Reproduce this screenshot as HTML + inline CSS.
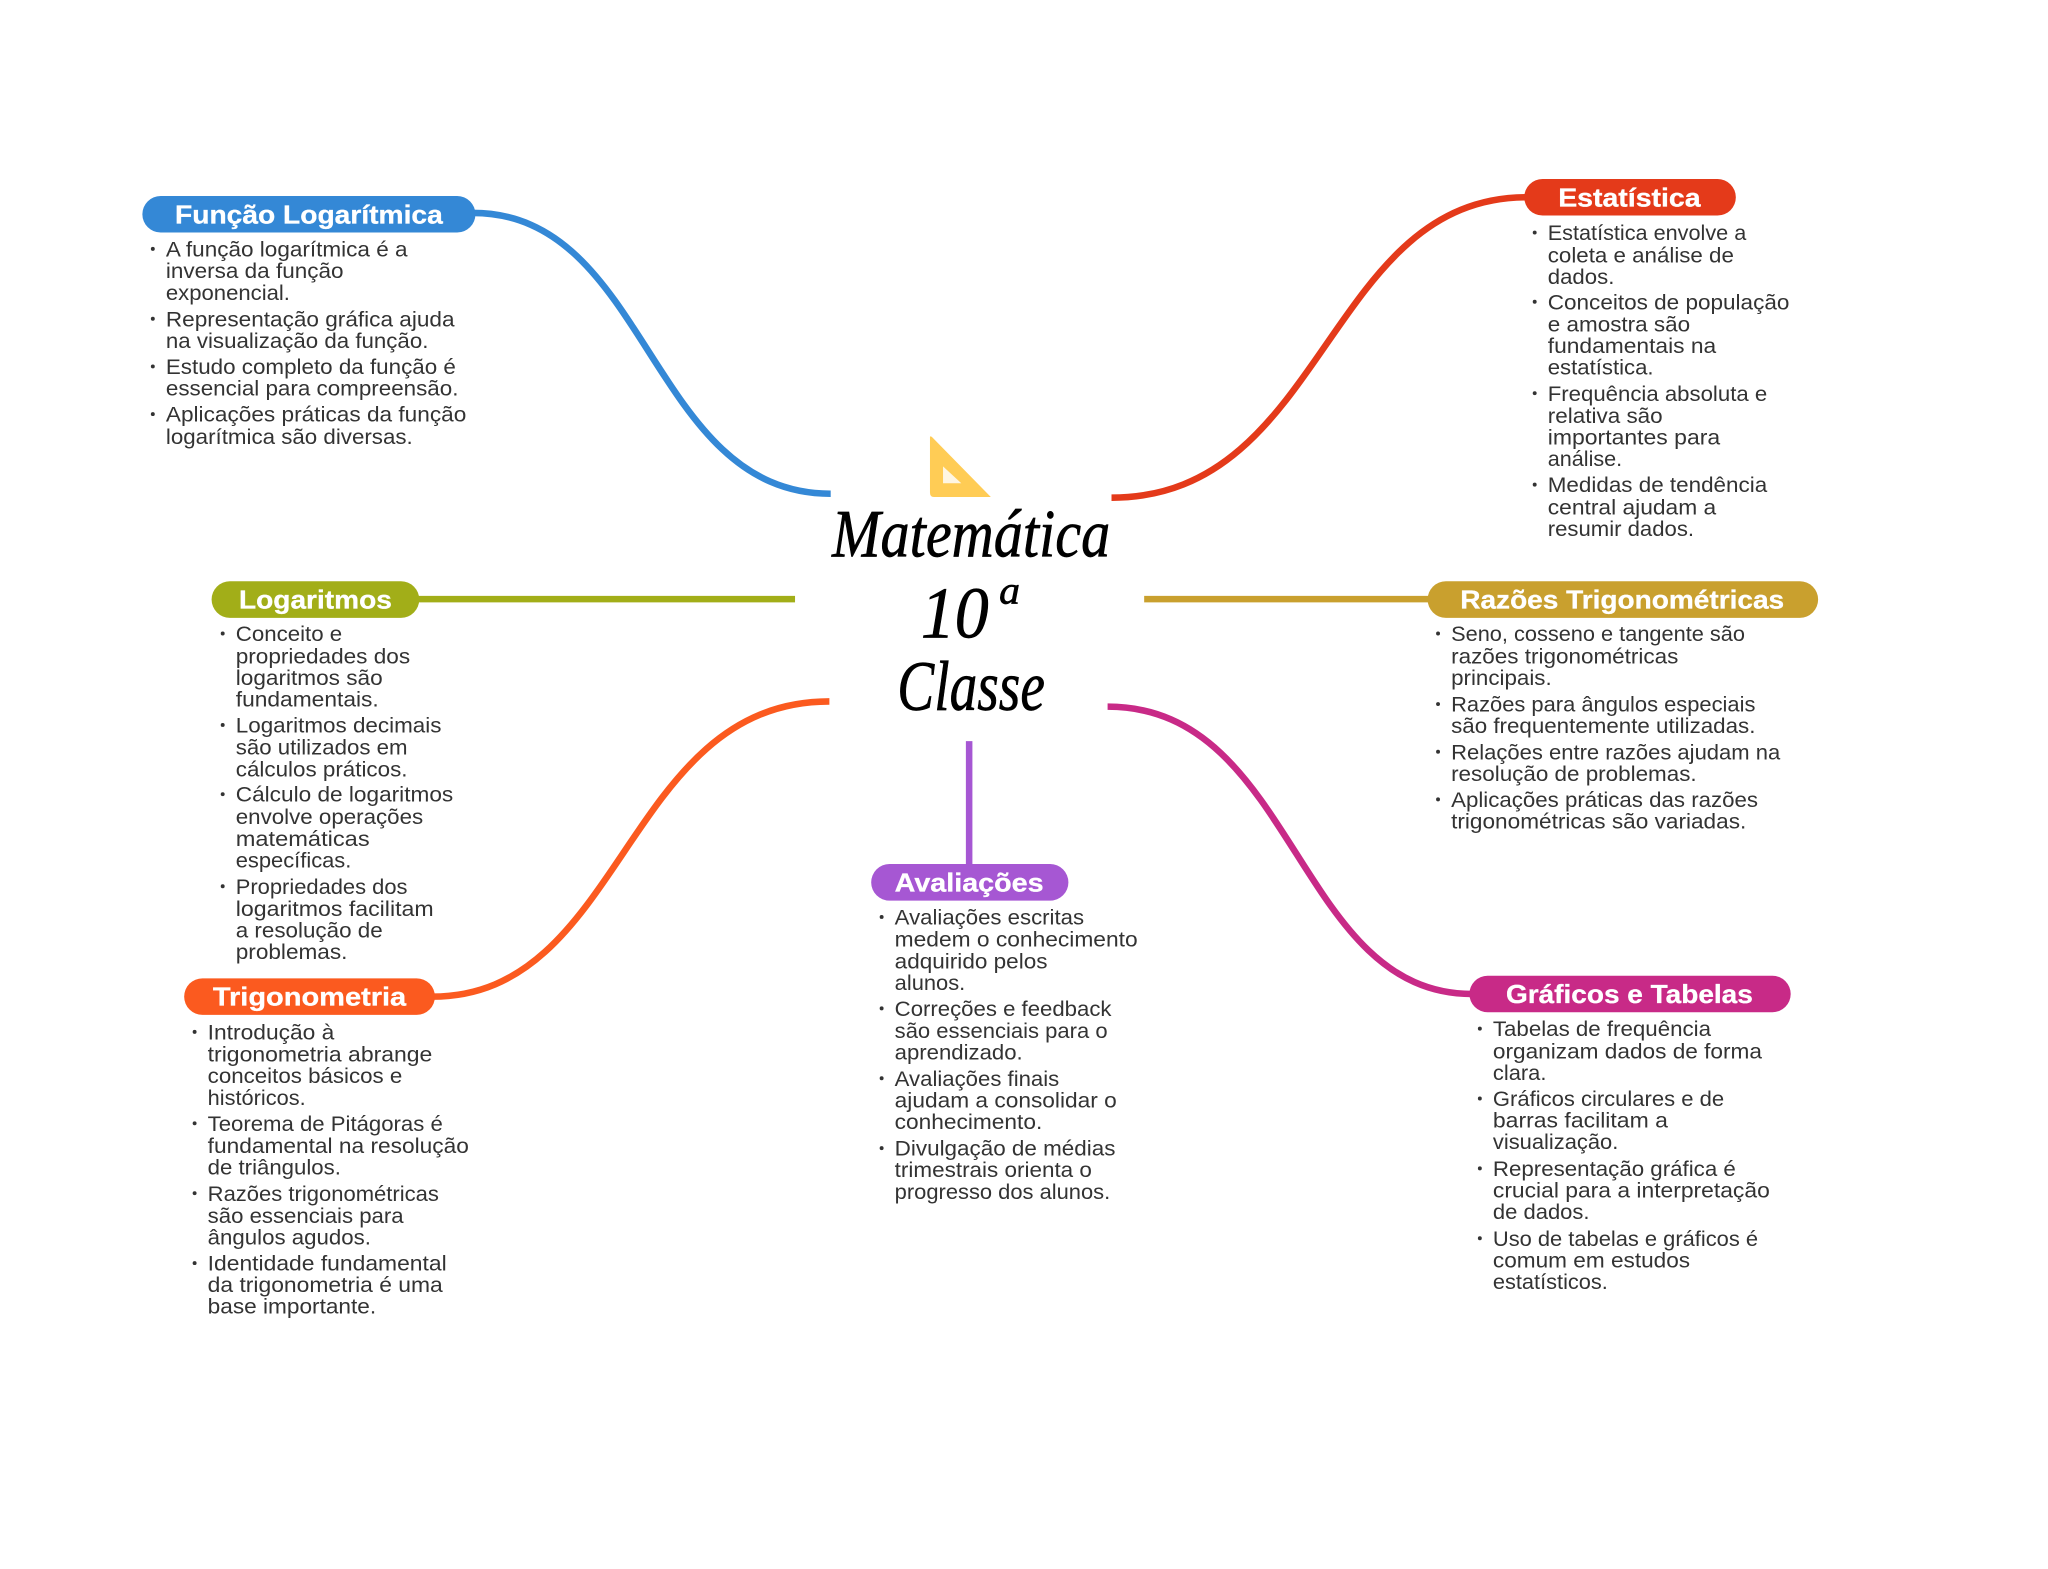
<!DOCTYPE html>
<html lang="pt">
<head>
<meta charset="utf-8">
<title>Matemática 10ª Classe</title>
<style>
html,body{margin:0;padding:0;background:#fff;width:2048px;height:1569px;overflow:hidden}
svg{display:block}
.b text{font-family:"Liberation Sans",sans-serif;font-size:16.5px;fill:#333}
.t{font-family:"Liberation Sans",sans-serif;font-weight:700;font-size:20px;fill:#fff;stroke:#fff;stroke-width:.25}
.c{font-family:"Liberation Serif",serif;font-style:italic;fill:#000;stroke:#000;stroke-width:.5}
.l{fill:none;stroke-width:5}
</style>
</head>
<body>
<svg xmlns="http://www.w3.org/2000/svg" width="2048" height="1569" viewBox="0 0 1568 1201.2">
<rect width="1568" height="1201.2" fill="#fff"/>

<!-- connectors -->
<path class="l" stroke="#3488d6" d="M362,163 C497,163 497,378 636,378"/>
<path class="l" stroke="#e43a1a" d="M851,381 C1015,381 1015,151 1169,151"/>
<path class="l" stroke="#fb5a1f" d="M331,763 C478,763 478,537 635,537"/>
<path class="l" stroke="#c82a87" d="M848,541 C992,541 992,761 1127,761"/>
<path class="l" stroke="#a2ae18" d="M319,458.7 H608.7"/>
<path class="l" stroke="#c9a02e" d="M876,458.7 H1095"/>
<path class="l" stroke="#a657d3" d="M742,567.4 V663"/>

<!-- central icon -->
<path d="M712,335 Q712,333 714,335 L758.6,380.5 L715,380.5 Q712,380.5 712,377 Z" fill="#ffcc55"/>
<path d="M722,357 L736,370 L722,370 Z" fill="#fff6e2"/>

<!-- central title -->
<text class="c" x="637" y="426" font-size="52" textLength="213" lengthAdjust="spacingAndGlyphs">Matemática</text>
<text class="c" x="705" y="488" font-size="56" textLength="52" lengthAdjust="spacingAndGlyphs">10</text>
<text class="c" x="765" y="462" font-size="30" textLength="16" lengthAdjust="spacingAndGlyphs">a</text>
<text class="c" x="687" y="543.6" font-size="54" textLength="113" lengthAdjust="spacingAndGlyphs">Classe</text>

<!-- pills -->
<rect x="109" y="150" width="255" height="28" rx="14" fill="#3488d6"/>
<text class="t" x="134" y="171" textLength="205" lengthAdjust="spacingAndGlyphs">Função Logarítmica</text>
<rect x="1167" y="137" width="162" height="28" rx="14" fill="#e43a1a"/>
<text class="t" x="1193" y="158" textLength="109" lengthAdjust="spacingAndGlyphs">Estatística</text>
<rect x="162" y="445" width="159" height="28" rx="14" fill="#a2ae18"/>
<text class="t" x="183" y="466" textLength="117" lengthAdjust="spacingAndGlyphs">Logaritmos</text>
<rect x="1093" y="445" width="299" height="28" rx="14" fill="#c9a02e"/>
<text class="t" x="1118" y="466" textLength="248" lengthAdjust="spacingAndGlyphs">Razões Trigonométricas</text>
<rect x="141" y="749" width="192" height="28" rx="14" fill="#fb5a1f"/>
<text class="t" x="163" y="770" textLength="148" lengthAdjust="spacingAndGlyphs">Trigonometria</text>
<rect x="667" y="661.5" width="151" height="28" rx="14" fill="#a657d3"/>
<text class="t" x="685" y="682.5" textLength="114" lengthAdjust="spacingAndGlyphs">Avaliações</text>
<rect x="1125" y="747" width="246" height="28" rx="14" fill="#c82a87"/>
<text class="t" x="1153" y="768" textLength="189" lengthAdjust="spacingAndGlyphs">Gráficos e Tabelas</text>

<!-- bullets -->
<g fill="#333">
<circle cx="117" cy="190.5" r="1.5"/><circle cx="117" cy="244" r="1.5"/><circle cx="117" cy="280.5" r="1.5"/><circle cx="117" cy="317" r="1.5"/>
<circle cx="1175" cy="178" r="1.5"/><circle cx="1175" cy="231" r="1.5"/><circle cx="1175" cy="301" r="1.5"/><circle cx="1175" cy="371" r="1.5"/>
<circle cx="170.5" cy="485" r="1.5"/><circle cx="170.5" cy="555" r="1.5"/><circle cx="170.5" cy="608" r="1.5"/><circle cx="170.5" cy="678.5" r="1.5"/>
<circle cx="1101" cy="485" r="1.5"/><circle cx="1101" cy="539" r="1.5"/><circle cx="1101" cy="575.5" r="1.5"/><circle cx="1101" cy="612" r="1.5"/>
<circle cx="149" cy="790" r="1.5"/><circle cx="149" cy="860" r="1.5"/><circle cx="149" cy="913.5" r="1.5"/><circle cx="149" cy="967" r="1.5"/>
<circle cx="675" cy="702" r="1.5"/><circle cx="675" cy="772" r="1.5"/><circle cx="675" cy="825.5" r="1.5"/><circle cx="675" cy="879" r="1.5"/>
<circle cx="1133" cy="787.5" r="1.5"/><circle cx="1133" cy="841" r="1.5"/><circle cx="1133" cy="894.5" r="1.5"/><circle cx="1133" cy="948" r="1.5"/>
</g>

<!-- body text -->
<g class="b" transform="translate(0,5.8)">
<text x="127" y="190.5" textLength="185" lengthAdjust="spacingAndGlyphs">A função logarítmica é a</text>
<text x="127" y="207" textLength="136" lengthAdjust="spacingAndGlyphs">inversa da função</text>
<text x="127" y="224" textLength="95" lengthAdjust="spacingAndGlyphs">exponencial.</text>
<text x="127" y="244" textLength="221" lengthAdjust="spacingAndGlyphs">Representação gráfica ajuda</text>
<text x="127" y="260.5" textLength="201" lengthAdjust="spacingAndGlyphs">na visualização da função.</text>
<text x="127" y="280.5" textLength="222" lengthAdjust="spacingAndGlyphs">Estudo completo da função é</text>
<text x="127" y="297" textLength="224" lengthAdjust="spacingAndGlyphs">essencial para compreensão.</text>
<text x="127" y="317" textLength="230" lengthAdjust="spacingAndGlyphs">Aplicações práticas da função</text>
<text x="127" y="334" textLength="189" lengthAdjust="spacingAndGlyphs">logarítmica são diversas.</text>

<text x="1185" y="178" textLength="152" lengthAdjust="spacingAndGlyphs">Estatística envolve a</text>
<text x="1185" y="195" textLength="142.5" lengthAdjust="spacingAndGlyphs">coleta e análise de</text>
<text x="1185" y="211.5" textLength="51" lengthAdjust="spacingAndGlyphs">dados.</text>
<text x="1185" y="231" textLength="185" lengthAdjust="spacingAndGlyphs">Conceitos de população</text>
<text x="1185" y="248" textLength="109" lengthAdjust="spacingAndGlyphs">e amostra são</text>
<text x="1185" y="264.5" textLength="129" lengthAdjust="spacingAndGlyphs">fundamentais na</text>
<text x="1185" y="281" textLength="81" lengthAdjust="spacingAndGlyphs">estatística.</text>
<text x="1185" y="301" textLength="168" lengthAdjust="spacingAndGlyphs">Frequência absoluta e</text>
<text x="1185" y="318" textLength="88" lengthAdjust="spacingAndGlyphs">relativa são</text>
<text x="1185" y="334.5" textLength="132" lengthAdjust="spacingAndGlyphs">importantes para</text>
<text x="1185" y="351" textLength="57" lengthAdjust="spacingAndGlyphs">análise.</text>
<text x="1185" y="371" textLength="168" lengthAdjust="spacingAndGlyphs">Medidas de tendência</text>
<text x="1185" y="388" textLength="129" lengthAdjust="spacingAndGlyphs">central ajudam a</text>
<text x="1185" y="404.5" textLength="112" lengthAdjust="spacingAndGlyphs">resumir dados.</text>

<text x="180.5" y="485" textLength="81.5" lengthAdjust="spacingAndGlyphs">Conceito e</text>
<text x="180.5" y="502" textLength="133.5" lengthAdjust="spacingAndGlyphs">propriedades dos</text>
<text x="180.5" y="518.5" textLength="112.5" lengthAdjust="spacingAndGlyphs">logaritmos são</text>
<text x="180.5" y="535" textLength="109.5" lengthAdjust="spacingAndGlyphs">fundamentais.</text>
<text x="180.5" y="555" textLength="157.5" lengthAdjust="spacingAndGlyphs">Logaritmos decimais</text>
<text x="180.5" y="572" textLength="131.5" lengthAdjust="spacingAndGlyphs">são utilizados em</text>
<text x="180.5" y="588.5" textLength="131.5" lengthAdjust="spacingAndGlyphs">cálculos práticos.</text>
<text x="180.5" y="608" textLength="166.5" lengthAdjust="spacingAndGlyphs">Cálculo de logaritmos</text>
<text x="180.5" y="625" textLength="143.5" lengthAdjust="spacingAndGlyphs">envolve operações</text>
<text x="180.5" y="642" textLength="102.5" lengthAdjust="spacingAndGlyphs">matemáticas</text>
<text x="180.5" y="658.5" textLength="88.5" lengthAdjust="spacingAndGlyphs">específicas.</text>
<text x="180.5" y="678.5" textLength="131.5" lengthAdjust="spacingAndGlyphs">Propriedades dos</text>
<text x="180.5" y="695.5" textLength="151.5" lengthAdjust="spacingAndGlyphs">logaritmos facilitam</text>
<text x="180.5" y="712" textLength="112.5" lengthAdjust="spacingAndGlyphs">a resolução de</text>
<text x="180.5" y="728.5" textLength="85.5" lengthAdjust="spacingAndGlyphs">problemas.</text>

<text x="1111" y="485" textLength="225" lengthAdjust="spacingAndGlyphs">Seno, cosseno e tangente são</text>
<text x="1111" y="502" textLength="174" lengthAdjust="spacingAndGlyphs">razões trigonométricas</text>
<text x="1111" y="518.5" textLength="77" lengthAdjust="spacingAndGlyphs">principais.</text>
<text x="1111" y="539" textLength="233" lengthAdjust="spacingAndGlyphs">Razões para ângulos especiais</text>
<text x="1111" y="555.5" textLength="233" lengthAdjust="spacingAndGlyphs">são frequentemente utilizadas.</text>
<text x="1111" y="575.5" textLength="252" lengthAdjust="spacingAndGlyphs">Relações entre razões ajudam na</text>
<text x="1111" y="592" textLength="188" lengthAdjust="spacingAndGlyphs">resolução de problemas.</text>
<text x="1111" y="612" textLength="235" lengthAdjust="spacingAndGlyphs">Aplicações práticas das razões</text>
<text x="1111" y="628.5" textLength="226" lengthAdjust="spacingAndGlyphs">trigonométricas são variadas.</text>

<text x="159" y="790" textLength="97" lengthAdjust="spacingAndGlyphs">Introdução à</text>
<text x="159" y="807" textLength="172" lengthAdjust="spacingAndGlyphs">trigonometria abrange</text>
<text x="159" y="823.5" textLength="149" lengthAdjust="spacingAndGlyphs">conceitos básicos e</text>
<text x="159" y="840" textLength="75" lengthAdjust="spacingAndGlyphs">históricos.</text>
<text x="159" y="860" textLength="180" lengthAdjust="spacingAndGlyphs">Teorema de Pitágoras é</text>
<text x="159" y="877" textLength="200" lengthAdjust="spacingAndGlyphs">fundamental na resolução</text>
<text x="159" y="893.5" textLength="102" lengthAdjust="spacingAndGlyphs">de triângulos.</text>
<text x="159" y="913.5" textLength="177" lengthAdjust="spacingAndGlyphs">Razões trigonométricas</text>
<text x="159" y="930.5" textLength="150" lengthAdjust="spacingAndGlyphs">são essenciais para</text>
<text x="159" y="947" textLength="125" lengthAdjust="spacingAndGlyphs">ângulos agudos.</text>
<text x="159" y="967" textLength="183" lengthAdjust="spacingAndGlyphs">Identidade fundamental</text>
<text x="159" y="983.5" textLength="180" lengthAdjust="spacingAndGlyphs">da trigonometria é uma</text>
<text x="159" y="1000" textLength="129" lengthAdjust="spacingAndGlyphs">base importante.</text>

<text x="685" y="702" textLength="145" lengthAdjust="spacingAndGlyphs">Avaliações escritas</text>
<text x="685" y="719" textLength="186" lengthAdjust="spacingAndGlyphs">medem o conhecimento</text>
<text x="685" y="735.5" textLength="117" lengthAdjust="spacingAndGlyphs">adquirido pelos</text>
<text x="685" y="752" textLength="54" lengthAdjust="spacingAndGlyphs">alunos.</text>
<text x="685" y="772" textLength="166" lengthAdjust="spacingAndGlyphs">Correções e feedback</text>
<text x="685" y="789" textLength="163" lengthAdjust="spacingAndGlyphs">são essenciais para o</text>
<text x="685" y="805.5" textLength="98" lengthAdjust="spacingAndGlyphs">aprendizado.</text>
<text x="685" y="825.5" textLength="126" lengthAdjust="spacingAndGlyphs">Avaliações finais</text>
<text x="685" y="842" textLength="170" lengthAdjust="spacingAndGlyphs">ajudam a consolidar o</text>
<text x="685" y="858.5" textLength="113" lengthAdjust="spacingAndGlyphs">conhecimento.</text>
<text x="685" y="879" textLength="169" lengthAdjust="spacingAndGlyphs">Divulgação de médias</text>
<text x="685" y="895.5" textLength="151" lengthAdjust="spacingAndGlyphs">trimestrais orienta o</text>
<text x="685" y="912" textLength="165" lengthAdjust="spacingAndGlyphs">progresso dos alunos.</text>

<text x="1143" y="787.5" textLength="167" lengthAdjust="spacingAndGlyphs">Tabelas de frequência</text>
<text x="1143" y="804.5" textLength="206" lengthAdjust="spacingAndGlyphs">organizam dados de forma</text>
<text x="1143" y="821" textLength="41" lengthAdjust="spacingAndGlyphs">clara.</text>
<text x="1143" y="841" textLength="177" lengthAdjust="spacingAndGlyphs">Gráficos circulares e de</text>
<text x="1143" y="857.5" textLength="134" lengthAdjust="spacingAndGlyphs">barras facilitam a</text>
<text x="1143" y="874" textLength="96" lengthAdjust="spacingAndGlyphs">visualização.</text>
<text x="1143" y="894.5" textLength="186" lengthAdjust="spacingAndGlyphs">Representação gráfica é</text>
<text x="1143" y="911" textLength="212" lengthAdjust="spacingAndGlyphs">crucial para a interpretação</text>
<text x="1143" y="927.5" textLength="74" lengthAdjust="spacingAndGlyphs">de dados.</text>
<text x="1143" y="948" textLength="203" lengthAdjust="spacingAndGlyphs">Uso de tabelas e gráficos é</text>
<text x="1143" y="964.5" textLength="151" lengthAdjust="spacingAndGlyphs">comum em estudos</text>
<text x="1143" y="981" textLength="88" lengthAdjust="spacingAndGlyphs">estatísticos.</text>
</g>
</svg>
</body>
</html>
